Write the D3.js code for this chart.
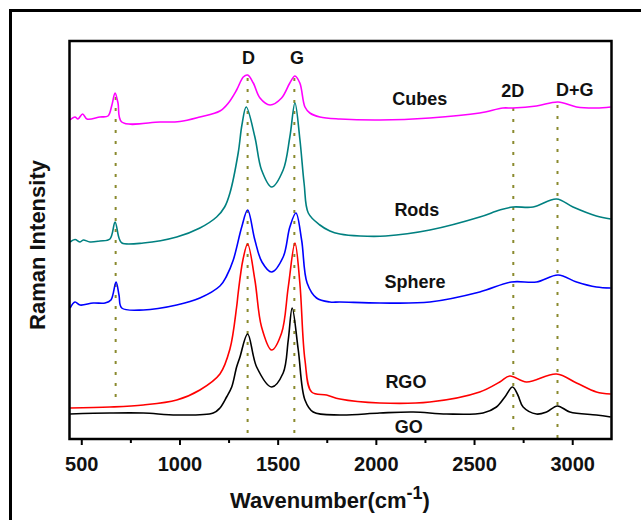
<!DOCTYPE html>
<html>
<head>
<meta charset="utf-8">
<script src="https://cdn.jsdelivr.net/npm/d3@7"></script>
<style>
  html, body { margin: 0; padding: 0; background: #fff; }
  svg { display: block; font-family: Arial, "Liberation Sans", sans-serif; }
</style>
</head>
<body>
<div id="chart"></div>
<script>
// Raman spectra: [wavenumber (cm-1), intensity (a.u., offset stacked)]
const cubes = [
  [443, 319], [468, 322], [483, 320], [507, 325], [529, 320], [595, 322], [636, 323],
  [656, 334], [672, 346], [687, 336], [706, 317], [901, 317], [1002, 317.5], [1104, 322],
  [1206, 328], [1249, 336], [1291, 349], [1325, 362], [1347, 364], [1376, 356],
  [1410, 341], [1461, 334], [1520, 341], [1562, 356], [1588, 363], [1613, 356], [1639, 332],
  [1664, 326], [1715, 322], [1817, 320], [2020, 319], [2275, 321], [2529, 326], [2647, 331],
  [2697, 331], [2818, 333], [2928, 337], [3022, 332], [3123, 331], [3196, 332]
];
const rods = [
  [443, 197], [468, 199.5], [494, 197], [510, 199], [544, 197], [595, 198], [646, 200],
  [672, 217], [692, 201], [707, 196], [816, 196], [986, 202], [1104, 211], [1189, 222],
  [1230, 232], [1257, 246], [1299, 286], [1318, 314], [1340, 332], [1384, 302], [1418, 269],
  [1469, 252], [1528, 269], [1562, 302], [1588, 336], [1613, 300], [1635, 255], [1656, 226],
  [1715, 214], [1766, 208], [1817, 205], [1920, 203], [2050, 203], [2275, 209], [2529, 222],
  [2631, 229], [2699, 232], [2801, 232], [2920, 240], [3004, 232], [3123, 223], [3196, 220]
];
const sphere = [
  [443, 131], [468, 137], [494, 134], [561, 136], [621, 136], [651, 139], [677, 157],
  [692, 144], [706, 131], [816, 129], [986, 134], [1104, 141], [1206, 153], [1240, 163],
  [1274, 179], [1317, 212], [1347, 229], [1384, 199], [1420, 177], [1469, 167], [1528, 182],
  [1562, 212], [1593, 226], [1622, 199], [1650, 156], [1698, 141], [1766, 137], [1817, 137],
  [2020, 136], [2275, 137], [2529, 147], [2691, 157], [2818, 157], [2928, 164], [3022, 157],
  [3123, 152], [3196, 151]
];
const rgo = [
  [443, 31], [646, 32], [816, 34], [986, 39], [1104, 49], [1206, 65], [1257, 90], [1291, 132],
  [1299, 146], [1323, 179], [1347, 195], [1384, 159], [1418, 112], [1469, 89], [1520, 106],
  [1554, 152], [1588, 196], [1613, 156], [1639, 79], [1673, 47], [1749, 44], [1817, 40],
  [2020, 36], [2275, 37], [2529, 47], [2631, 57], [2682, 63], [2767, 57], [2920, 65],
  [3022, 56], [3123, 47], [3196, 45]
];
const go = [
  [443, 25], [646, 26], [816, 26], [986, 24], [1172, 26], [1206, 31], [1240, 42], [1266, 52],
  [1291, 72], [1308, 82], [1347, 105], [1393, 72], [1469, 52], [1528, 66], [1554, 99],
  [1574, 131], [1605, 89], [1639, 39], [1681, 27], [1817, 24], [2020, 26], [2190, 27],
  [2360, 25], [2546, 26], [2614, 32], [2657, 42], [2696, 52], [2723, 44], [2750, 32],
  [2818, 25], [2869, 27], [2925, 33], [2988, 27], [3123, 24], [3196, 22]
];

const seriesNames = ["Cubes", "Rods", "Sphere", "RGO", "GO"];
const seriesColors = ["#ff00ff", "#008080", "#0000ff", "#ff0000", "#000000"];
const seriesData = [cubes, rods, sphere, rgo, go];
// where each name sits: [wavenumber, intensity]
const seriesLabelPos = [[2224, 340], [2209, 229], [2199, 157], [2153, 57], [2168, 12]];

// dotted guides at the band positions
const bandPositions = [675, 1347, 1585, 2700, 2925];
const bandTops = [342, 361, 361, 331, 334];
const bandBottoms = [37, 0, 0, 0, 0];
const bandNames = ["D", "G", "2D", "D+G"];
const bandLabelPos = [[1352, 381], [1598, 381], [2697, 348], [3013, 349]];

const majorTicks = [500, 1000, 1500, 2000, 2500, 3000];
const minorTicks = [750, 1250, 1750, 2250, 2750];

const W = 641, H = 520;
const plotLeft = 69.5, plotRight = 611.5, plotTop = 41, plotBottom = 439;

const svg = d3.select("#chart").append("svg")
  .attr("width", W)
  .attr("height", H);

// outer figure border (runs off the right/bottom edge)
svg.append("rect")
  .attr("x", 10.5).attr("y", 10.5)
  .attr("width", 700).attr("height", 600)
  .attr("fill", "none").attr("stroke", "#000").attr("stroke-width", 3);

const x = d3.scaleLinear().domain([440, 3200]).range([plotLeft, plotRight]);
const y = d3.scaleLinear().domain([0, 398]).range([plotBottom, plotTop]);

// dotted guide lines
svg.append("g").selectAll("line")
  .data(bandPositions)
  .join("line")
  .attr("x1", d => x(d)).attr("x2", d => x(d))
  .attr("y1", (d, i) => y(bandTops[i]))
  .attr("y2", (d, i) => y(bandBottoms[i]))
  .attr("stroke", "#8a8a2e")
  .attr("stroke-width", 2)
  .attr("stroke-dasharray", "3,8");

// spectra
const line = d3.line()
  .x(d => x(d[0]))
  .y(d => y(d[1]))
  .curve(d3.curveCatmullRom.alpha(0.5));

svg.append("g").selectAll("path")
  .data(seriesData)
  .join("path")
  .attr("d", line)
  .attr("fill", "none")
  .attr("stroke", (d, i) => seriesColors[i])
  .attr("stroke-width", 1.6)
  .attr("stroke-linejoin", "round");

// series names
svg.append("g").selectAll("text")
  .data(seriesNames)
  .join("text")
  .attr("x", (d, i) => x(seriesLabelPos[i][0]))
  .attr("y", (d, i) => y(seriesLabelPos[i][1]))
  .attr("text-anchor", "middle")
  .attr("dominant-baseline", "central")
  .attr("font-size", 18)
  .attr("font-weight", "bold")
  .attr("fill", "#111")
  .text(d => d);

// band names
svg.append("g").selectAll("text")
  .data(bandNames)
  .join("text")
  .attr("x", (d, i) => x(bandLabelPos[i][0]))
  .attr("y", (d, i) => y(bandLabelPos[i][1]))
  .attr("text-anchor", "middle")
  .attr("dominant-baseline", "central")
  .attr("font-size", 18)
  .attr("font-weight", "bold")
  .attr("fill", "#111")
  .text(d => d);

// x axis: major ticks with labels, minor ticks without
const xAxis = svg.append("g")
  .attr("transform", `translate(0,${plotBottom})`)
  .call(d3.axisBottom(x).tickValues(majorTicks).tickFormat(d3.format("d"))
    .tickSize(6).tickSizeOuter(0).tickPadding(12));
xAxis.select(".domain").remove();
xAxis.selectAll(".tick line").attr("stroke-width", 2);
xAxis.selectAll(".tick text")
  .attr("font-size", 20)
  .attr("font-weight", "bold")
  .attr("font-family", "Arial, 'Liberation Sans', sans-serif")
  .attr("fill", "#111");

const xMinor = svg.append("g")
  .attr("transform", `translate(0,${plotBottom})`)
  .call(d3.axisBottom(x).tickValues(minorTicks).tickSize(4).tickSizeOuter(0).tickFormat(""));
xMinor.select(".domain").remove();
xMinor.selectAll(".tick line").attr("stroke-width", 2);

// plot frame
svg.append("rect")
  .attr("x", plotLeft).attr("y", plotTop)
  .attr("width", plotRight - plotLeft).attr("height", plotBottom - plotTop)
  .attr("fill", "none").attr("stroke", "#000").attr("stroke-width", 2.5);

// axis titles
const xTitle = svg.append("text")
  .attr("x", 330).attr("y", 508)
  .attr("text-anchor", "middle")
  .attr("font-size", 22)
  .attr("font-weight", "bold")
  .attr("fill", "#111");
xTitle.append("tspan").text("Wavenumber(cm");
xTitle.append("tspan").attr("dy", -9).attr("font-size", 18).text("-1");
xTitle.append("tspan").attr("dy", 9).text(")");

svg.append("text")
  .attr("transform", "translate(45,245) rotate(-90)")
  .attr("text-anchor", "middle")
  .attr("font-size", 22)
  .attr("font-weight", "bold")
  .attr("fill", "#111")
  .text("Raman Intensity");
</script>
</body>
</html>
